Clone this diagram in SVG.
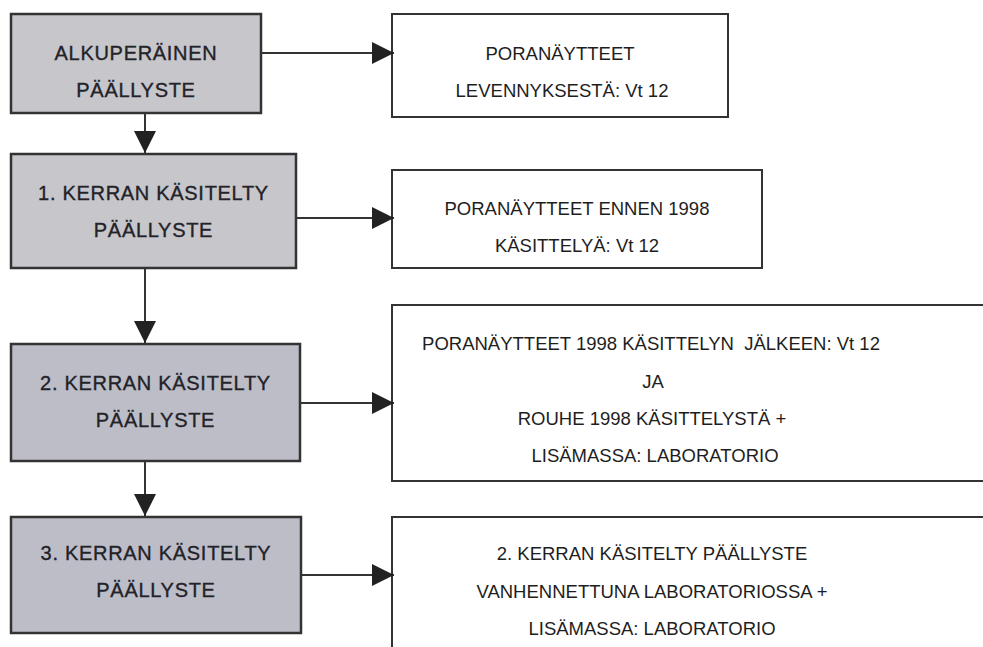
<svg xmlns="http://www.w3.org/2000/svg" width="983" height="647" viewBox="0 0 983 647">
<defs>
<marker id="ah" viewBox="0 0 22 22" refX="22" refY="11" markerWidth="22" markerHeight="22" markerUnits="userSpaceOnUse" orient="auto">
<path d="M0,0 L22,11 L0,22 Z" fill="#222"/>
</marker>
</defs>
<style>
.g rect{fill:#c6c6cb;stroke:#333;stroke-width:2.5}
.g2 rect{fill:#bdbdc7;stroke:#333;stroke-width:2.5}
.w rect{fill:#fff;stroke:#333;stroke-width:2}
.lt{font-family:"Liberation Sans",Arial,sans-serif;font-size:20px;fill:#222228;stroke:#222228;stroke-width:0.35;text-anchor:middle;letter-spacing:0.7px}
.rt{font-family:"Liberation Sans",Arial,sans-serif;font-size:18.5px;fill:#1e1e1e;text-anchor:middle}
.c line{stroke:#333;stroke-width:2;marker-end:url(#ah)}
</style>
<rect width="983" height="647" fill="#fff"/>
<g id="n1" class="g"><rect x="11" y="14" width="250" height="99"/>
<text class="lt" x="136" y="60">ALKUPERÄINEN</text><text class="lt" x="136" y="97">PÄÄLLYSTE</text></g>
<g id="n2" class="g"><rect x="11" y="154" width="285" height="114"/>
<text class="lt" x="153.5" y="200">1. KERRAN KÄSITELTY</text><text class="lt" x="153.5" y="237">PÄÄLLYSTE</text></g>
<g id="n3" class="g2"><rect x="11" y="344" width="289" height="117"/>
<text class="lt" x="155.5" y="390">2. KERRAN KÄSITELTY</text><text class="lt" x="155.5" y="427">PÄÄLLYSTE</text></g>
<g id="n4" class="g2"><rect x="11" y="517" width="290" height="116"/>
<text class="lt" x="156" y="560">3. KERRAN KÄSITELTY</text><text class="lt" x="156" y="597">PÄÄLLYSTE</text></g>
<g id="r1" class="w"><rect x="392" y="14" width="336" height="103"/>
<text class="rt" x="560" y="60">PORANÄYTTEET</text><text class="rt" x="562" y="97">LEVENNYKSESTÄ: Vt 12</text></g>
<g id="r2" class="w"><rect x="392" y="170" width="370" height="98"/>
<text class="rt" x="577" y="215">PORANÄYTTEET ENNEN 1998</text><text class="rt" x="577" y="252">KÄSITTELYÄ: Vt 12</text></g>
<g id="r3" class="w"><rect x="392" y="305" width="620" height="176"/>
<text class="rt" x="651" y="350" xml:space="preserve">PORANÄYTTEET 1998 KÄSITTELYN  JÄLKEEN: Vt 12</text>
<text class="rt" x="653" y="388">JA</text>
<text class="rt" x="652" y="425">ROUHE 1998 KÄSITTELYSTÄ +</text>
<text class="rt" x="655" y="462">LISÄMASSA: LABORATORIO</text></g>
<g id="r4" class="w"><rect x="392" y="517" width="620" height="160"/>
<text class="rt" x="652" y="560">2. KERRAN KÄSITELTY PÄÄLLYSTE</text>
<text class="rt" x="652" y="598">VANHENNETTUNA LABORATORIOSSA +</text>
<text class="rt" x="652" y="635">LISÄMASSA: LABORATORIO</text></g>
<g id="connectors" class="c">
<line x1="145" y1="113" x2="145" y2="153"/>
<line x1="145" y1="268" x2="145" y2="343"/>
<line x1="145" y1="461" x2="145" y2="516"/>
<line x1="261" y1="53" x2="394" y2="53"/>
<line x1="296" y1="218" x2="394" y2="218"/>
<line x1="300" y1="403" x2="394" y2="403"/>
<line x1="301" y1="575" x2="394" y2="575"/>
</g>
</svg>
